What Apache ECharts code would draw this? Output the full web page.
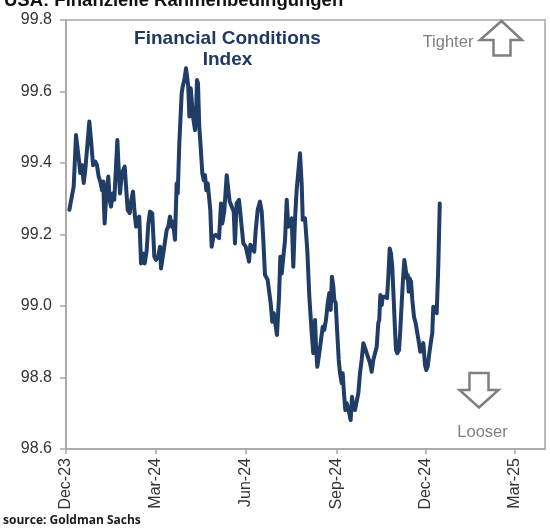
<!DOCTYPE html>
<html>
<head>
<meta charset="utf-8">
<script src="https://cdn.jsdelivr.net/npm/echarts@6/dist/echarts.min.js"></script>
<style>
  html, body { margin: 0; padding: 0; background: #fff; }
  #chart { width: 550px; height: 529px; }
</style>
</head>
<body>
<div id="chart"></div>
<script>
// days since 2023-12-01 and index level
const days = [
  3.4, 7.8, 10.2, 11.9, 13.5, 14.5, 16.3, 18.0, 19.6, 22.4, 23.7, 25.7, 27.5, 29.8, 31.5, 33.2,
  34.9, 36.6, 37.9, 38.6, 39.3, 41.0, 43.0, 44.4, 45.8, 47.5, 49.1, 50.8, 52.2, 53.6, 54.9, 56.9,
  59.7, 61.3, 62.7, 64.8, 66.4, 68.1, 69.8, 71.2, 72.5, 74.5, 76.3, 78.0, 80.0, 82.0, 83.7, 85.4,
  87.7, 89.8, 91.5, 93.8, 95.6, 96.6, 97.9, 99.9, 102.4, 104.0, 105.7, 107.5, 108.8, 110.8, 112.5,
  113.6, 115.2, 117.6, 118.6, 120.3, 122.0, 123.3, 124.3, 125.4, 126.8, 127.8, 129.1, 131.2, 132.2,
  133.2, 134.2, 135.5, 136.9, 138.6, 140.0, 141.3, 142.6, 144.1, 145.7, 146.7, 148.1, 149.8, 152.2,
  154.2, 155.6, 157.6, 158.9, 160.9, 163.4, 165.0, 166.4, 168.5, 170.5, 171.8, 173.5, 175.9, 177.9,
  180.3, 182.7, 184.7, 186.1, 187.4, 189.4, 191.4, 192.9, 194.9, 197.2, 199.0, 200.6, 202.3, 205.0,
  206.7, 208.1, 209.7, 211.2, 212.5, 214.5, 216.6, 217.9, 219.3, 220.9, 222.7, 224.4, 226.0, 227.7,
  229.5, 231.1, 232.8, 234.5, 236.2, 237.9, 239.6, 240.7, 243.0, 244.0, 245.3, 247.4, 249.8, 251.4,
  253.2, 254.2, 255.5, 257.5, 259.3, 261.0, 262.6, 264.3, 266.1, 267.7, 269.1, 270.4, 271.8, 272.8,
  274.2, 275.8, 277.3, 278.6, 280.3, 281.3, 282.6, 284.0, 285.4, 286.7, 288.0, 289.4, 290.8, 292.1,
  293.8, 295.6, 297.2, 298.9, 300.6, 302.3, 304.0, 305.7, 307.3, 309.1, 310.8, 312.4, 314.2, 315.9,
  317.5, 318.5, 319.6, 321.0, 322.0, 324.3, 326.4, 327.7, 329.1, 330.4, 331.7, 333.2, 334.5, 335.5,
  336.8, 338.6, 339.9, 341.3, 342.6, 344.0, 345.4, 346.7, 347.4, 348.4, 349.4, 350.8, 352.1, 353.8,
  355.5, 357.2, 358.9, 360.2, 361.6, 363.3, 365.0, 366.3, 367.7, 369.4, 370.8, 372.4, 373.4, 375.2,
  376.9, 378.5, 380.0
];
const fci = [
  99.269, 99.334, 99.478, 99.473, 99.400, 99.372, 99.394, 99.344, 99.380, 99.473, 99.516, 99.456, 99.394, 99.404, 99.394, 99.362,
  99.348, 99.324, 99.348, 99.278, 99.231, 99.315, 99.362, 99.297, 99.278, 99.315, 99.297, 99.302, 99.464, 99.380, 99.315, 99.372,
  99.390, 99.324, 99.269, 99.260, 99.297, 99.320, 99.260, 99.222, 99.241, 99.250, 99.119, 99.147, 99.119, 99.155, 99.229, 99.264,
  99.259, 99.138, 99.129, 99.138, 99.166, 99.105, 99.129, 99.166, 99.213, 99.222, 99.250, 99.222, 99.236, 99.185, 99.343,
  99.315, 99.455, 99.595, 99.613, 99.632, 99.665, 99.637, 99.613, 99.530, 99.609, 99.604, 99.530, 99.492, 99.539,
  99.632, 99.623, 99.502, 99.446, 99.371, 99.352, 99.366, 99.324, 99.343, 99.338, 99.269, 99.166, 99.194, 99.199,
  99.203, 99.190, 99.287, 99.231, 99.264, 99.366, 99.362, 99.292, 99.278, 99.264, 99.175, 99.287, 99.297, 99.297,
  99.175, 99.166, 99.171, 99.124, 99.171, 99.166, 99.152, 99.213, 99.269, 99.292, 99.264, 99.185, 99.087, 99.073,
  99.073, 99.008, 98.956, 98.980, 98.980, 98.919, 99.026, 99.138, 99.091, 99.091, 99.185, 99.297, 99.222, 99.222,
  99.245, 99.110, 99.241, 99.324, 99.376, 99.427, 99.343, 99.241, 99.245, 99.241, 99.157, 99.026, 98.924, 98.868,
  98.961, 98.886, 98.830, 98.868, 98.868, 98.942, 98.933, 98.961, 99.008, 99.036, 98.989, 99.082, 99.054, 99.017,
  99.008, 98.924, 98.849, 98.812, 98.784, 98.812, 98.756, 98.709, 98.728, 98.723, 98.700, 98.681, 98.746, 98.718,
  98.709, 98.709, 98.756, 98.812, 98.849, 98.896, 98.883, 98.868, 98.872, 98.840, 98.816, 98.849, 98.868, 98.886,
  98.952, 98.961, 99.031, 99.003, 99.026, 99.026, 99.022, 99.082, 99.161, 99.147, 99.110, 99.017, 98.933, 98.877,
  98.868, 98.877, 98.933, 99.008, 99.073, 99.129, 99.101, 99.077, 99.087, 99.040, 99.077, 99.068, 99.017, 98.970,
  98.952, 98.952, 98.896, 98.872, 98.872, 98.896, 98.835, 98.821, 98.830, 98.868, 98.896, 98.924, 98.998, 99.003,
  98.980, 99.110, 99.287
];
// x-axis ticks: days since 2023-12-01
const xTickDays = [0, 91, 183, 275, 366, 456];
const xTickLabels = ['Dec-23', 'Mar-24', 'Jun-24', 'Sep-24', 'Dec-24', 'Mar-25'];

const LINE_COLOR = '#1f3d66';
const FRAME_COLOR = '#a6a6a6';
const ARROW_COLOR = '#808080';

const chart = echarts.init(document.getElementById('chart'), null, { renderer: 'canvas' });

chart.setOption({
  animation: false,
  backgroundColor: '#fff',
  grid: {
    left: 66,
    right: 5,
    top: 20,
    bottom: 80,
    show: true,
    borderColor: FRAME_COLOR,
    borderWidth: 1.5,
    containLabel: false,
  },
  xAxis: {
    type: 'value',
    min: 0,
    max: 487,
    axisLine: { show: true, lineStyle: { color: FRAME_COLOR, width: 1.5 } },
    axisTick: {
      show: true,
      length: 5,
      customValues: xTickDays,
      lineStyle: { color: FRAME_COLOR, width: 1.5 },
    },
    axisLabel: {
      customValues: xTickDays,
      rotate: 90,
      margin: 9,
      color: '#333',
      fontSize: 16,
      fontFamily: 'Liberation Sans, Arial, sans-serif',
      formatter: (v) => {
        const i = xTickDays.indexOf(Math.round(v));
        return i >= 0 ? xTickLabels[i] : '';
      },
    },
    splitLine: { show: false },
  },
  yAxis: {
    type: 'value',
    min: 98.6,
    max: 99.8,
    interval: 0.2,
    axisLine: { show: true, lineStyle: { color: FRAME_COLOR, width: 1.5 } },
    axisTick: { show: true, length: 6, lineStyle: { color: FRAME_COLOR, width: 1.5 } },
    axisLabel: {
      margin: 14,
      color: '#333',
      fontSize: 16,
      fontFamily: 'Liberation Sans, Arial, sans-serif',
      formatter: (v) => v.toFixed(1),
    },
    splitLine: { show: false },
  },
  series: [
    {
      type: 'line',
      data: days.map((d, i) => [d, fci[i]]),
      showSymbol: false,
      lineStyle: { color: LINE_COLOR, width: 4, join: 'round', cap: 'round' },
      emphasis: { disabled: true },
    },
  ],
  graphic: [
    {
      type: 'text',
      left: 4,
      top: -9,
      style: {
        text: 'USA: Finanzielle Rahmenbedingungen',
        font: 'bold 18.5px "Liberation Sans", Arial, sans-serif',
        fill: '#111',
      },
    },
    {
      type: 'text',
      x: 227.5,
      y: 28,
      style: {
        text: 'Financial Conditions\nIndex',
        font: 'bold 19px "Liberation Sans", Arial, sans-serif',
        fill: '#1f3864',
        align: 'center',
        verticalAlign: 'top',
        lineHeight: 21,
      },
    },
    {
      type: 'text',
      x: 448,
      y: 42,
      style: {
        text: 'Tighter',
        font: '16.5px "Liberation Sans", Arial, sans-serif',
        fill: ARROW_COLOR,
        align: 'center',
        verticalAlign: 'middle',
      },
    },
    {
      type: 'polygon',
      shape: {
        points: [[501.5, 21], [522, 40], [510.5, 40], [510.5, 55.5], [493.5, 55.5], [493.5, 40], [480, 40]],
      },
      style: { fill: '#fff', stroke: ARROW_COLOR, lineWidth: 2.5 },
    },
    {
      type: 'polygon',
      shape: {
        points: [[469.5, 373], [488.5, 373], [488.5, 390], [498.5, 390], [479, 407.5], [459.5, 390], [469.5, 390]],
      },
      style: { fill: '#fff', stroke: ARROW_COLOR, lineWidth: 2.5 },
    },
    {
      type: 'text',
      x: 482.5,
      y: 432,
      style: {
        text: 'Looser',
        font: '16.5px "Liberation Sans", Arial, sans-serif',
        fill: ARROW_COLOR,
        align: 'center',
        verticalAlign: 'middle',
      },
    },
    {
      type: 'text',
      left: 3,
      top: 515,
      style: {
        text: 'source: Goldman Sachs',
        font: 'bold 12px "Open Sans", sans-serif',
        fill: '#1a1a1a',
      },
    },
  ],
});
</script>
</body>
</html>
